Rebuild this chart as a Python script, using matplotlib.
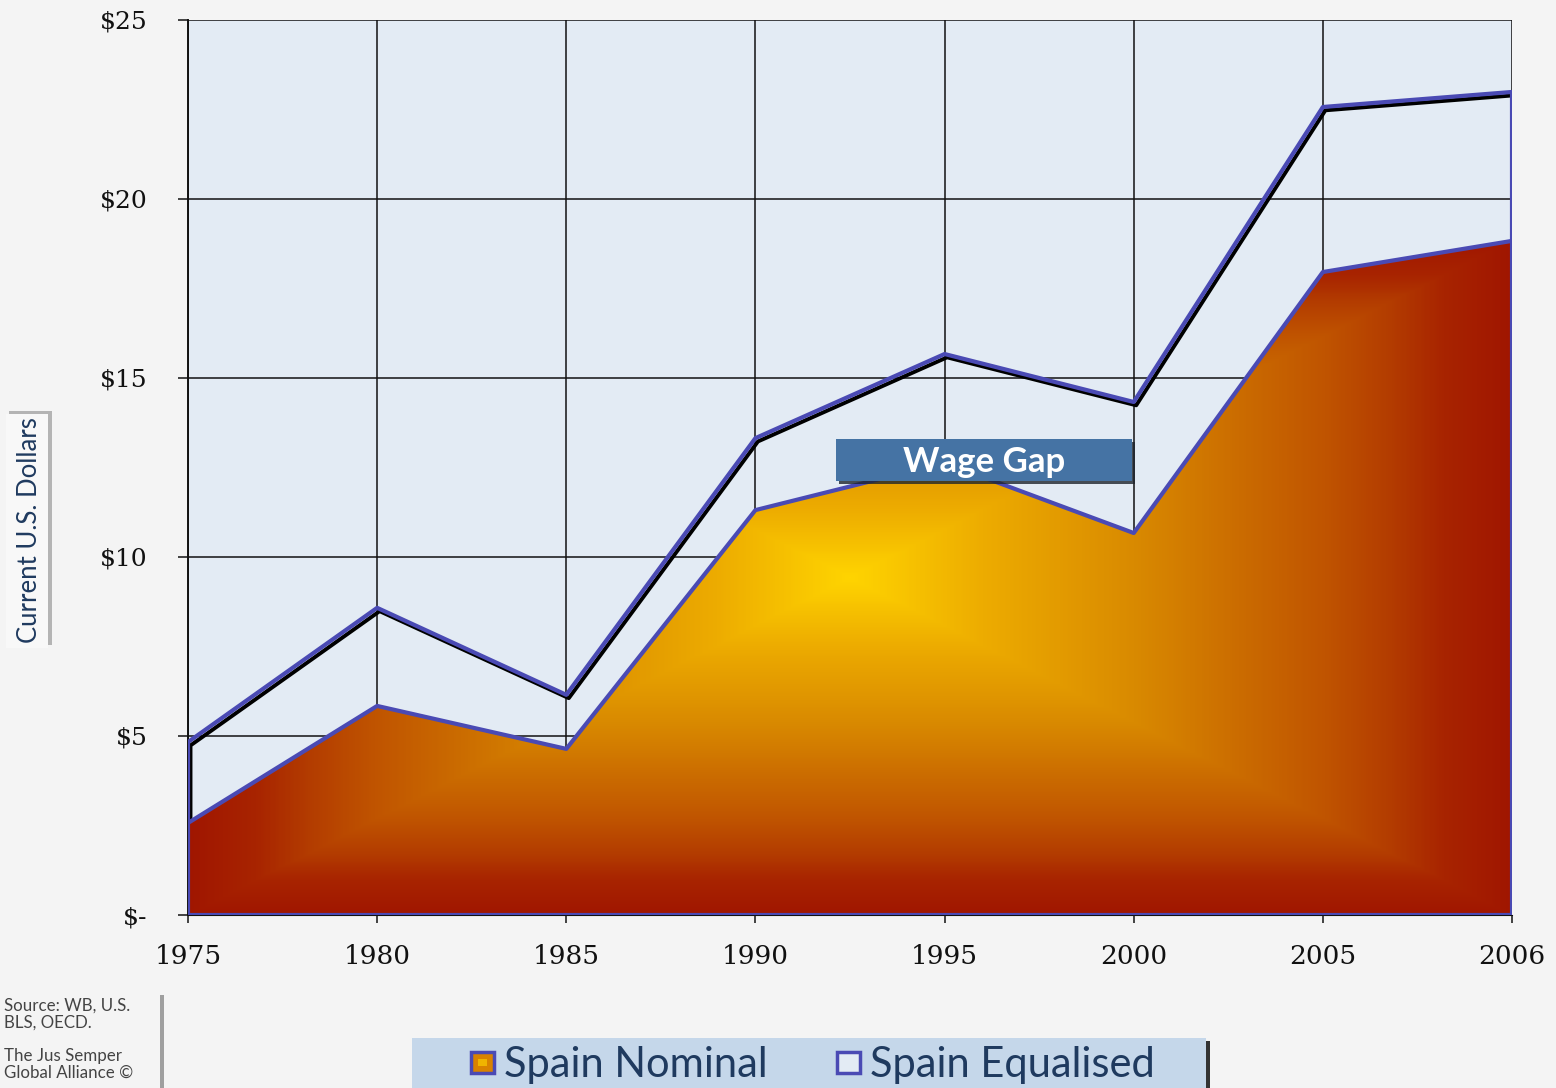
import numpy as np
import matplotlib
matplotlib.use("Agg")
import matplotlib.pyplot as plt
from matplotlib.patches import Polygon, Rectangle
from matplotlib.colors import LinearSegmentedColormap
import matplotlib.patheffects as pe

# ---- data ----
years = ["1975", "1980", "1985", "1990", "1995", "2000", "2005", "2006"]
nominal = [2.57, 5.84, 4.64, 11.31, 12.63, 10.67, 17.96, 18.83]
equalised = [4.83, 8.58, 6.15, 13.32, 15.67, 14.33, 22.57, 22.99]
yticks = [0, 5, 10, 15, 20, 25]
ytick_labels = ["$-", "$5", "$10", "$15", "$20", "$25"]

W, H = 1556, 1088
BG = "#F4F4F4"
PLOT_BG = "#E3EBF4"
BLUE = "#4A4AB4"
NAVY = "#1F3A5F"

def fx(px):
    return px / W

def fy(py):
    return 1 - py / H

fig = plt.figure(figsize=(W / 100, H / 100), dpi=100, facecolor=BG)
ax = fig.add_axes([fx(188), fy(915), fx(1512) - fx(188), fy(20) - fy(915)])
ax.set_facecolor(PLOT_BG)

idx = np.arange(len(years))
xmax = len(years) - 1

# grid / ticks
ax.set_xticks(idx)
ax.set_xticklabels(years, family="DejaVu Serif", fontsize=19, color="#111111")
ax.set_yticks(yticks)
ax.set_yticklabels(ytick_labels, family="DejaVu Serif", fontsize=18, color="#111111")
ax.grid(True, color="#111111", linewidth=1.1, zorder=1)
ax.set_axisbelow(True)
ax.tick_params(axis="y", length=7, width=1.1, pad=22, color="#111111")
ax.tick_params(axis="x", length=6, width=1.1, pad=15, color="#111111")
for s in ["top", "right"]:
    ax.spines[s].set_visible(False)
ax.spines["left"].set_color("#111111")
ax.spines["left"].set_linewidth(1.4)
ax.spines["bottom"].set_color("#111111")

# equalised outline area with shadow
eq = ax.fill_between(idx, 0, equalised, facecolor="none", edgecolor=BLUE,
                     linewidth=3.0, zorder=3)
eq.set_path_effects([pe.SimpleLineShadow(offset=(1.8, -2.4), shadow_color="black",
                                         alpha=1.0, linewidth=2.8),
                     pe.Normal()])

# nominal gradient fill (rectangular path gradient)
cmap = LinearSegmentedColormap.from_list("grad", [
    (0.0, "#FFD400"), (0.2, "#EDAC00"), (0.43, "#D98A00"), (0.6, "#CA6A00"),
    (0.72, "#C05400"), (0.82, "#B33C00"), (0.9, "#A82400"), (1.0, "#A01600")])
ymax = max(nominal)
gx = np.linspace(0, xmax, 700)
gy = np.linspace(0, ymax, 500)
GX, GY = np.meshgrid(gx, gy)
dx = np.abs((GX - xmax / 2) / (xmax / 2))
dy = np.abs((GY - ymax / 2) / (ymax / 2))
T = np.clip(np.maximum(dx, dy), 0, 1)
verts = [(0, 0)] + list(zip(idx, nominal)) + [(xmax, 0)]
poly = Polygon(verts, closed=True, facecolor="none", edgecolor="none")
ax.add_patch(poly)
im = ax.imshow(T, extent=(0, xmax, 0, ymax), origin="lower", cmap=cmap,
               vmin=0, vmax=1, aspect="auto", zorder=4, interpolation="bilinear")
im.set_clip_path(poly)
ax.fill_between(idx, 0, nominal, facecolor="none", edgecolor=BLUE,
                linewidth=3.0, zorder=5)
ax.set_xlim(0, xmax)
ax.set_ylim(0, 25)

# Wage Gap box
fig.patches.append(Rectangle((fx(839), fy(484)), fx(1135) - fx(839), fy(439) - fy(481),
                             transform=fig.transFigure, facecolor="#1E242C",
                             alpha=0.8, zorder=10, edgecolor="none"))
fig.patches.append(Rectangle((fx(836), fy(481)), fx(1132) - fx(836), fy(439) - fy(481),
                             transform=fig.transFigure, facecolor="#4573A4",
                             zorder=11, edgecolor="none"))
fig.text(fx(984), fy(462), "Wage Gap", family="Lato", fontweight="bold",
         fontsize=25, color="white", ha="center", va="center", zorder=12)

# Y label box
fig.patches.append(Rectangle((fx(9), fy(645)), fx(52) - fx(9), fy(411) - fy(645),
                             transform=fig.transFigure, facecolor="#9A9A9A",
                             edgecolor="none", alpha=0.7, zorder=1))
fig.patches.append(Rectangle((fx(6), fy(648)), fx(48) - fx(6), fy(414) - fy(648),
                             transform=fig.transFigure, facecolor="#F8F8F8",
                             edgecolor="none", zorder=2))
fig.text(fx(30), fy(530), "Current U.S. Dollars", rotation=90, family="Lato",
         fontsize=18.5, color=NAVY, ha="center", va="center", zorder=3)

# Source box
fig.patches.append(Rectangle((fx(0), 0), fx(164), fy(995) - 0,
                             transform=fig.transFigure, facecolor="#8A8A8A",
                             edgecolor="none", alpha=0.8, zorder=1))
fig.patches.append(Rectangle((fx(0), 0), fx(160), fy(993),
                             transform=fig.transFigure, facecolor=BG,
                             edgecolor="none", zorder=2))
fig.text(fx(4), fy(998), "Source: WB, U.S.\nBLS, OECD.\n\nThe Jus Semper\nGlobal Alliance ©",
         family="Lato", fontsize=12.2, color="#444444", ha="left", va="top",
         linespacing=1.05, zorder=3)

# Legend
fig.patches.append(Rectangle((fx(415), 0), fx(1210) - fx(415), fy(1041),
                             transform=fig.transFigure, facecolor="#111111",
                             edgecolor="none", alpha=0.85, zorder=1))
fig.patches.append(Rectangle((fx(412), 0), fx(1206) - fx(412), fy(1038),
                             transform=fig.transFigure, facecolor="#C5D7EA",
                             edgecolor="none", zorder=2))
fig.patches.append(Rectangle((fx(471), fy(1073)), fx(494) - fx(471), fy(1052) - fy(1073),
                             transform=fig.transFigure, facecolor="#D98200",
                             edgecolor=BLUE, linewidth=2.5, zorder=3))
fig.patches.append(Rectangle((fx(478), fy(1066)), fx(487) - fx(478), fy(1059) - fy(1066),
                             transform=fig.transFigure, facecolor="#F0B400",
                             edgecolor="none", zorder=4))
fig.patches.append(Rectangle((fx(837), fy(1073)), fx(860) - fx(837), fy(1052) - fy(1073),
                             transform=fig.transFigure, facecolor=PLOT_BG,
                             edgecolor=BLUE, linewidth=2.5, zorder=3))
fig.text(fx(504), fy(1065), "Spain Nominal", family="Lato", fontsize=30,
         color=NAVY, ha="left", va="center", zorder=5)
fig.text(fx(870), fy(1065), "Spain Equalised", family="Lato", fontsize=30,
         color=NAVY, ha="left", va="center", zorder=5)

fig.savefig("out.png", dpi=100, facecolor=BG)
